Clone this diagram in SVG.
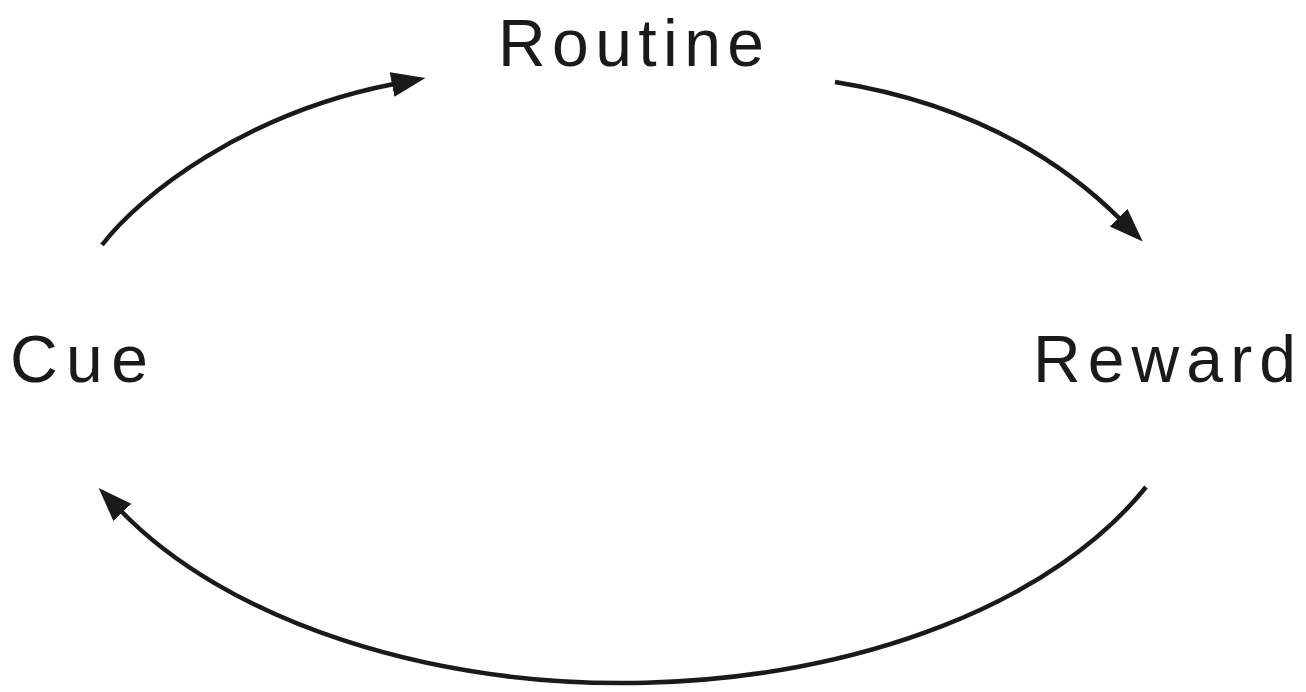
<svg xmlns="http://www.w3.org/2000/svg" width="1306" height="692" viewBox="0 0 1306 692">
<style>
.lbl{font-family:"Liberation Sans","DejaVu Sans",sans-serif;font-size:66px;fill:#1a1a1a;}
.conn{fill:none;stroke:#1a1a1a;stroke-width:4.5;}
</style>
<defs>
<marker id="ah" markerUnits="userSpaceOnUse" markerWidth="40" markerHeight="30" refX="2" refY="12.5" orient="auto">
<path d="M0,0 L34,12.5 L0,25 z" fill="#1a1a1a"/>
</marker>
</defs>
<rect width="1306" height="692" fill="#ffffff"/>
<g id="connectors">
<path class="conn" d="M102,245 C140,195 245,113 394,84" marker-end="url(#ah)"/>
<path class="conn" d="M835,82 Q1010,110 1120,219" marker-end="url(#ah)"/>
<path class="conn" d="M1146,487 A579,343 0 0 1 121,511" marker-end="url(#ah)"/>
</g>
<g id="node-routine"><text class="lbl" x="498" y="66" textLength="266" lengthAdjust="spacing">Routine</text></g>
<g id="node-cue"><text class="lbl" x="10" y="382" textLength="138" lengthAdjust="spacing">Cue</text></g>
<g id="node-reward"><text class="lbl" x="1033" y="382" textLength="263" lengthAdjust="spacing">Reward</text></g>
</svg>
